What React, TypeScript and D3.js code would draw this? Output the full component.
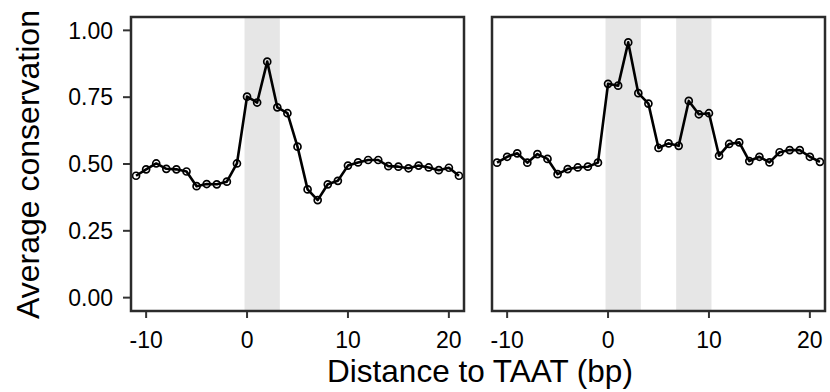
import React from "react";
import * as d3 from "d3";

const positions = [-11, -10, -9, -8, -7, -6, -5, -4, -3, -2, -1, 0, 1, 2, 3, 4, 5, 6, 7, 8, 9, 10, 11, 12, 13, 14, 15, 16, 17, 18, 19, 20, 21];
const leftValues = [0.456, 0.48, 0.502, 0.482, 0.48, 0.472, 0.417, 0.425, 0.424, 0.434, 0.502, 0.752, 0.73, 0.883, 0.712, 0.69, 0.565, 0.405, 0.365, 0.424, 0.437, 0.494, 0.506, 0.515, 0.515, 0.492, 0.49, 0.484, 0.494, 0.487, 0.477, 0.486, 0.456];
const rightValues = [0.505, 0.527, 0.54, 0.505, 0.537, 0.519, 0.462, 0.481, 0.487, 0.49, 0.505, 0.8, 0.793, 0.955, 0.765, 0.726, 0.56, 0.577, 0.568, 0.736, 0.686, 0.69, 0.531, 0.575, 0.581, 0.511, 0.527, 0.506, 0.544, 0.552, 0.552, 0.527, 0.508];
const leftShades = [[-0.25, 3.25]];
const rightShades = [[-0.25, 3.25], [6.75, 10.25]];
const xTicks = [-10, 0, 10, 20];
const yTicks = [0, 0.25, 0.5, 0.75, 1.0];
const yTitle = "Average conservation";
const xTitle = "Distance to TAAT (bp)";

const FONT = "'Liberation Sans', Arial, Helvetica, sans-serif";
const TOP = 17;
const BOTTOM = 311;

function Panel({ x0, x1, values, shades, showY }: { x0: number; x1: number; values: number[]; shades: number[][]; showY: boolean }) {
  const x = d3.scaleLinear().domain([-11.5, 21.5]).range([x0, x1]);
  const y = d3.scaleLinear().domain([-0.05, 1.05]).range([BOTTOM, TOP]);
  const pts = positions.map((p, i) => [p, values[i]] as [number, number]);
  const line = d3.line<[number, number]>().x((d) => x(d[0])).y((d) => y(d[1]));
  return (
    <g>
      {shades.map((s, i) => (
        <rect key={i} x={x(s[0])} y={TOP} width={x(s[1]) - x(s[0])} height={BOTTOM - TOP} fill="#e6e6e6" />
      ))}
      <path d={line(pts) || ""} fill="none" stroke="#000" strokeWidth={2.6} strokeLinejoin="round" />
      {pts.map((d, i) => (
        <circle key={i} cx={x(d[0])} cy={y(d[1])} r={3.5} fill="none" stroke="#000" strokeWidth={1.7} />
      ))}
      <rect x={x0} y={TOP} width={x1 - x0} height={BOTTOM - TOP} fill="none" stroke="#2b2b2b" strokeWidth={2.5} />
      {xTicks.map((t) => (
        <g key={t}>
          <line x1={x(t)} x2={x(t)} y1={BOTTOM + 1} y2={BOTTOM + 7} stroke="#333" strokeWidth={2} />
          <text x={x(t)} y={347.5} textAnchor="middle" fontFamily={FONT} fontSize={23} fill="#000">
            {t}
          </text>
        </g>
      ))}
      {showY &&
        yTicks.map((t) => (
          <g key={t}>
            <line x1={x0 - 8} x2={x0 - 1} y1={y(t)} y2={y(t)} stroke="#333" strokeWidth={2} />
            <text x={x0 - 18} y={y(t)} dy="0.36em" textAnchor="end" fontFamily={FONT} fontSize={23} fill="#000">
              {d3.format(".2f")(t)}
            </text>
          </g>
        ))}
    </g>
  );
}

export default function App() {
  return (
    <svg width={830} height={392} style={{ position: "absolute", left: 0, top: 0, background: "#fff" }}>
      <rect x={0} y={0} width={830} height={392} fill="#fff" />
      <Panel x0={131} x1={464} values={leftValues} shades={leftShades} showY={true} />
      <Panel x0={492} x1={825} values={rightValues} shades={rightShades} showY={false} />
      <text x={480} y={381.5} textAnchor="middle" fontFamily={FONT} fontSize={31.5} fill="#000">
        {xTitle}
      </text>
      <text transform={`translate(39,164.5) rotate(-90)`} textAnchor="middle" fontFamily={FONT} fontSize={32} fill="#000">
        {yTitle}
      </text>
    </svg>
  );
}
